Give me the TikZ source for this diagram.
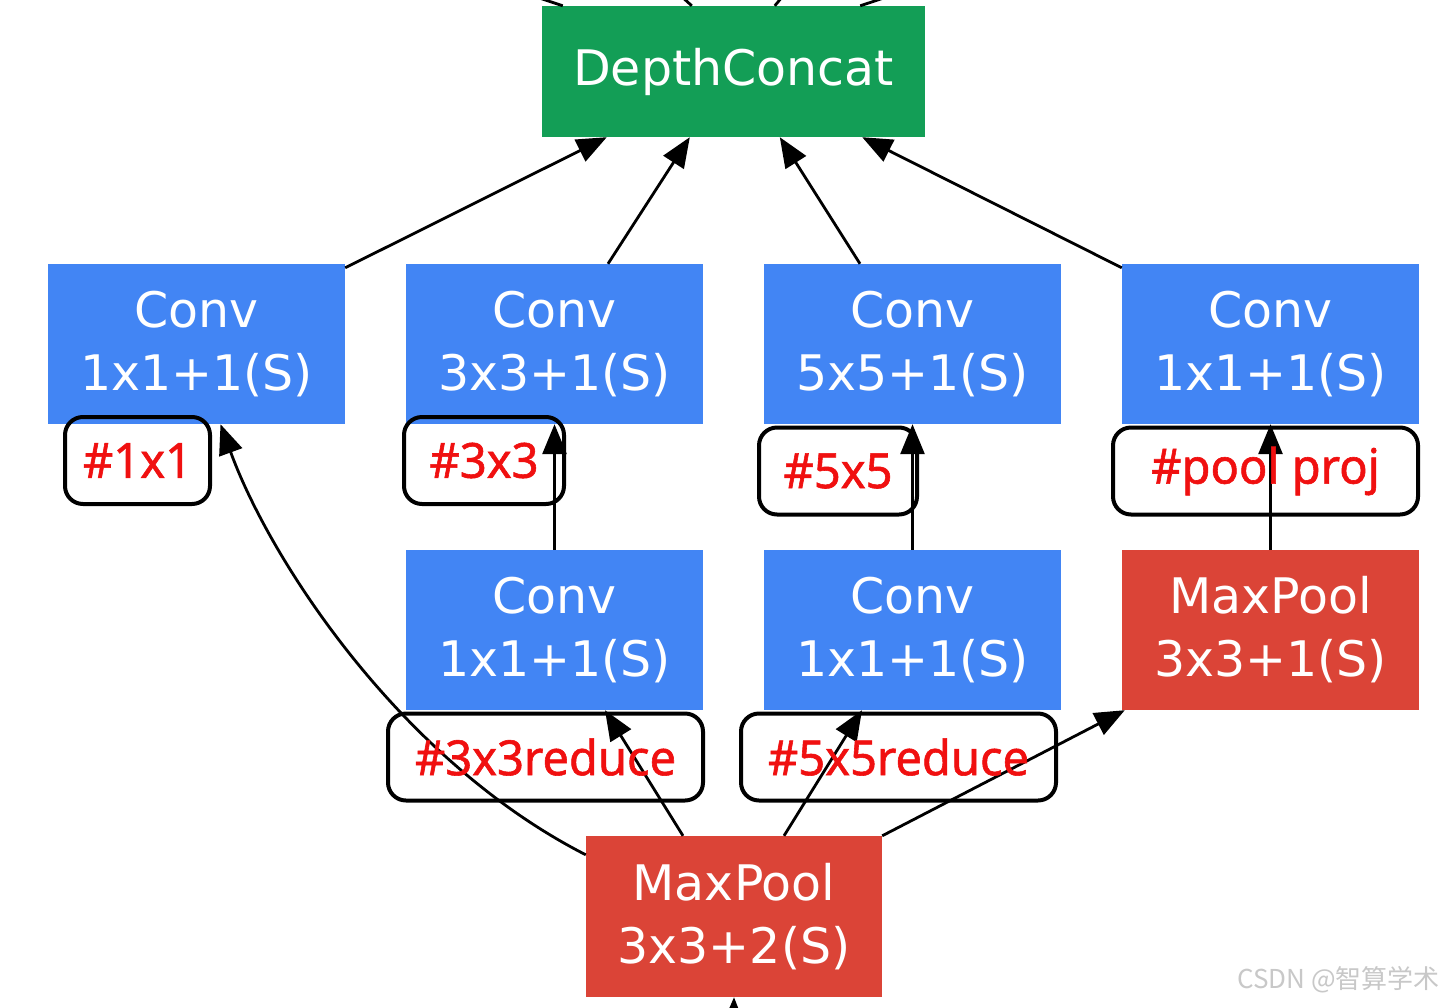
\documentclass[tikz,border=0pt]{standalone}
\usepackage{fontspec}
\usetikzlibrary{arrows.meta,calc}
\newfontfamily\boxfont{DejaVu Sans}
\newfontfamily\labfont[FakeBold=1.2,FakeStretch=0.97]{Noto Sans}
\newfontfamily\cjkfont{Noto Sans CJK SC}
\definecolor{gBlue}{RGB}{66,133,244}
\definecolor{gRed}{RGB}{219,68,55}
\definecolor{gGreen}{RGB}{19,158,86}
\definecolor{lblRed}{RGB}{240,16,16}
\definecolor{wmGray}{RGB}{200,200,200}
\tikzset{
  opbox/.style={rectangle, inner sep=0pt, minimum width=297pt, minimum height=160pt,
    text=white, align=center, font=\boxfont\fontsize{49}{63}\selectfont},
  convbox/.style={opbox, fill=gBlue},
  poolbox/.style={opbox, fill=gRed},
  lblbox/.style={rectangle, draw=black, line width=4pt, rounded corners=18pt,
    inner sep=0pt, minimum height=87pt},
  lbltext/.style={text=lblRed, font=\labfont\fontsize{48.5}{52}\selectfont, inner sep=0pt},
  conn/.style={line width=2.8pt, draw=black},
  arr/.style={conn, -{Triangle[length=30pt,width=24pt]}},
}
\begin{document}
\begin{tikzpicture}[x=1pt,y=-1pt]
\useasboundingbox (0,0) rectangle (1445,1007);
\clip (0,0) rectangle (1445,1007);
\fill[white] (0,0) rectangle (1445,1007);

% boxes
\node[opbox, fill=gGreen, minimum width=383pt, minimum height=131pt] (dc) at (733.5,71.5) {DepthConcat};
\node[convbox] (c1) at (196.5,344) {Conv\\1x1+1(S)};
\node[convbox] (c2) at (554.5,344) {Conv\\3x3+1(S)};
\node[convbox] (c3) at (912.5,344) {Conv\\5x5+1(S)};
\node[convbox] (c4) at (1270.5,344) {Conv\\1x1+1(S)};
\node[convbox] (r1) at (554.5,630) {Conv\\1x1+1(S)};
\node[convbox] (r2) at (912.5,630) {Conv\\1x1+1(S)};
\node[poolbox] (mp) at (1270.5,630) {MaxPool\\3x3+1(S)};
\node[poolbox, minimum width=296pt, minimum height=161pt] (bp) at (734,916.5) {MaxPool\\3x3+2(S)};

% free ends outside the picture
\coordinate (t1) at (500,-15);
\coordinate (t2) at (670,-14);
\coordinate (t3) at (792,-15);
\coordinate (t4) at (920,-14);
\coordinate (bin) at (733,1060);

% stubs at the top
\draw[conn] ([xshift=21pt]dc.north west) -- (t1);
\draw[conn] ([xshift=150pt]dc.north west) -- (t2);
\draw[conn] ([xshift=233pt]dc.north west) -- (t3);
\draw[conn] ([xshift=-65pt]dc.north east) -- (t4);

% to DepthConcat
\draw[arr] ([yshift=-4pt]c1.north east) -- ([xshift=65pt]dc.south west);
\draw[arr] ([xshift=53.5pt]c2.north) -- ([xshift=148pt]dc.south west);
\draw[arr] ([xshift=-52.5pt]c3.north) -- ([xshift=238pt]dc.south west);
\draw[arr] ([yshift=-4pt]c4.north west) -- ([xshift=-63pt]dc.south east);

% vertical
\draw[arr] (r1.north) -- (c2.south);
\draw[arr] (r2.north) -- (c3.south);
\draw[arr] (mp.north) -- (c4.south);

% from bottom MaxPool
\draw[arr] ([yshift=-19pt]bp.north west) .. controls (400,760) and (270,560) .. ([xshift=24pt]c1.south);
\draw[arr] ([xshift=-51pt]bp.north) -- ([xshift=50.5pt]r1.south);
\draw[arr] ([xshift=50pt]bp.north) -- ([xshift=-50.5pt]r2.south);
\draw[arr] (bp.north east) -- ([xshift=3pt]mp.south west);
\draw[arr] (bin) -- (bp.south);

% label boxes
\node[lblbox, minimum width=145pt] (l1) at (137.5,460.5) {};
\node[lblbox, minimum width=160pt] (l2) at (484,460.5) {};
\node[lblbox, minimum width=158pt] (l3) at (838,471) {};
\node[lblbox, minimum width=305pt] (l4) at (1265.5,471) {};
\node[lblbox, minimum width=315pt] (l5) at (545.5,757) {};
\node[lblbox, minimum width=315pt] (l6) at (898.5,757) {};

\node[lbltext] at (l1.center) {\#1x1};
\node[lbltext] at (l2.center) {\#3x3};
\node[lbltext] at (l3.center) {\#5x5};
\node[lbltext] at (l4.center) {\#pool proj};
\node[lbltext] at (l5.center) {\#3x3reduce};
\node[lbltext] at (l6.center) {\#5x5reduce};

% watermark
\node[anchor=east, text=wmGray, inner sep=0pt, font=\cjkfont\fontsize{26}{30}\selectfont] (wm) at (1440,980) {CSDN @智算学术};
\end{tikzpicture}
\end{document}
